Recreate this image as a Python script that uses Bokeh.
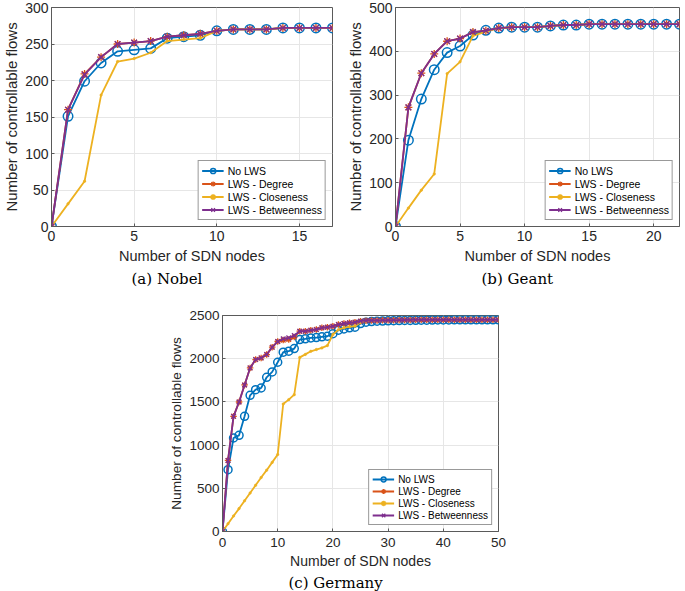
from bokeh.plotting import figure
from bokeh.models import Range1d, FixedTicker, Legend, LegendItem, Spacer
from bokeh.layouts import row, column
from bokeh.embed import file_html
from bokeh.resources import INLINE

# ---------------- data ----------------
series_names = ["No LWS", "LWS - Degree", "LWS - Closeness", "LWS - Betweenness"]
series_colors = ["#0072BD", "#D95319", "#EDB120", "#7E2F8E"]

nobel_x = list(range(0, 18))
nobel_nolws = [0, 151, 199, 224, 240, 242, 244, 258, 260, 262, 268, 270, 270, 270, 272, 272, 272, 272]
nobel_degree = [0, 160, 209, 232, 250, 252, 254, 260, 262, 264, 268, 270, 270, 270, 272, 272, 272, 272]
nobel_closeness = [0, 31, 62, 180, 226, 230, 238, 254, 256, 258, 268, 270, 270, 270, 272, 272, 272, 272]
nobel_betweenness = [0, 160, 208, 232, 250, 252, 254, 260, 262, 264, 268, 270, 270, 270, 272, 272, 272, 272]
nobel_xticks = [0, 5, 10, 15]
nobel_yticks = [0, 50, 100, 150, 200, 250, 300]

geant_x = list(range(0, 23))
geant_nolws = [0, 197, 291, 358, 397, 412, 437, 448, 453, 455, 455, 455, 458, 460, 460, 462, 462, 462, 462, 462, 462, 462, 462]
geant_degree = [0, 272, 350, 394, 423, 429, 444, 447, 453, 455, 455, 455, 458, 460, 460, 462, 462, 462, 462, 462, 462, 462, 462]
geant_closeness = [0, 42, 83, 120, 349, 376, 435, 445, 453, 455, 455, 455, 458, 460, 460, 462, 462, 462, 462, 462, 462, 462, 462]
geant_betweenness = [0, 272, 350, 394, 423, 429, 444, 447, 453, 455, 455, 455, 458, 460, 460, 462, 462, 462, 462, 462, 462, 462, 462]
geant_xticks = [0, 5, 10, 15, 20]
geant_yticks = [0, 100, 200, 300, 400, 500]

germany_x = list(range(0, 51))
germany_nolws = [0, 715, 1082, 1113, 1333, 1576, 1642, 1661, 1785, 1847,
                 1959, 2075, 2087, 2117, 2222, 2230, 2240, 2245, 2253, 2260,
                 2290, 2330, 2345, 2357, 2365, 2407, 2423, 2430, 2434, 2436,
                 2438, 2440, 2441, 2442, 2443, 2444, 2445, 2446, 2447, 2448,
                 2449, 2449, 2450, 2450, 2450, 2450, 2450, 2450, 2450, 2450, 2450]
germany_degree = [0, 823, 1333, 1499, 1696, 1893, 1990, 2009, 2048, 2133,
                  2199, 2215, 2222, 2250, 2318, 2318, 2330, 2337, 2357, 2365,
                  2376, 2395, 2407, 2415, 2423, 2434, 2440, 2442, 2443, 2444,
                  2445, 2446, 2447, 2448, 2449, 2450, 2450, 2450, 2450, 2450,
                  2450, 2450, 2450, 2450, 2450, 2450, 2450, 2450, 2450, 2450, 2450]
germany_closeness = [0, 90, 180, 265, 355, 445, 535, 625, 710, 800,
                     890, 1476, 1526, 1584, 2015, 2050, 2086, 2106, 2125, 2152,
                     2280, 2336, 2357, 2370, 2376, 2420, 2434, 2440, 2442, 2443,
                     2444, 2445, 2446, 2447, 2448, 2449, 2450, 2450, 2450, 2450,
                     2450, 2450, 2450, 2450, 2450, 2450, 2450, 2450, 2450, 2450, 2450]
germany_betweenness = [0, 823, 1333, 1499, 1696, 1893, 1990, 2009, 2048, 2133,
                       2199, 2230, 2241, 2268, 2318, 2318, 2330, 2337, 2357, 2365,
                       2376, 2395, 2407, 2415, 2423, 2434, 2440, 2442, 2443, 2444,
                       2445, 2446, 2447, 2448, 2449, 2450, 2450, 2450, 2450, 2450,
                       2450, 2450, 2450, 2450, 2450, 2450, 2450, 2450, 2450, 2450, 2450]
germany_xticks = [0, 10, 20, 30, 40, 50]
germany_yticks = [0, 500, 1000, 1500, 2000, 2500]

x_label = "Number of SDN nodes"
y_label = "Number of controllable flows"

AX = "#5a5a5a"
TXT = "#262626"
GRID = "#e6e6e6"
SANS = "Liberation Sans"


def make_panel(xs, ys_list, xr, yr, xt, yt, caption, fw, fh, mbl, mbr, mbt,
               cap_off, cap_standoff, msize, leg_font, leg_row,
               tick_fs, xl_fs, yl_fs, xtick_standoff, xl_standoff):
    p = figure(frame_width=fw, frame_height=fh,
               x_range=Range1d(*xr), y_range=Range1d(*yr),
               output_backend="svg", toolbar_location=None,
               title=caption, title_location="below",
               min_border_left=mbl, min_border_right=mbr,
               min_border_top=mbt, min_border_bottom=0,
               background_fill_color="white", border_fill_color="white")
    p.outline_line_color = AX
    p.outline_line_width = 1
    p.xaxis.ticker = FixedTicker(ticks=xt)
    p.yaxis.ticker = FixedTicker(ticks=yt)
    p.xaxis.axis_label = x_label
    p.yaxis.axis_label = y_label
    for ax in (p.xaxis[0], p.yaxis[0]):
        ax.axis_line_color = AX
        ax.major_tick_line_color = AX
        ax.major_tick_in = 3
        ax.major_tick_out = 0
        ax.minor_tick_line_color = None
        ax.major_label_text_font = SANS
        ax.major_label_text_font_size = tick_fs
        ax.major_label_text_color = TXT
        ax.axis_label_text_font = SANS
        ax.axis_label_text_font_style = "normal"
        ax.axis_label_text_color = TXT
    p.xaxis.major_label_standoff = xtick_standoff
    p.xaxis.axis_label_standoff = xl_standoff
    p.xaxis.axis_label_text_font_size = xl_fs
    p.yaxis.major_label_standoff = 3
    p.yaxis.axis_label_standoff = 2
    p.yaxis.axis_label_text_font_size = yl_fs
    p.xgrid.grid_line_color = GRID
    p.ygrid.grid_line_color = GRID

    p.title.text_font = "DejaVu Serif"
    p.title.text_font_style = "normal"
    p.title.text_font_size = "15px"
    p.title.text_color = "black"
    p.title.align = "left"
    p.title.offset = cap_off
    p.title.standoff = cap_standoff

    markers = ["circle", "asterisk", "dot", "x"]
    items = []
    for name, color, ys, mk in zip(series_names, series_colors, ys_list, markers):
        lr = p.line(xs, ys, line_color=color, line_width=1.8)
        if mk == "circle":
            sr = p.scatter(xs, ys, marker="circle", size=msize, fill_color=None,
                           line_color=color, line_width=1.5)
        elif mk == "dot":
            sr = p.scatter(xs, ys, marker="circle", size=2.5, fill_color=color,
                           line_color=color, line_width=0.5)
        else:
            sr = p.scatter(xs, ys, marker=mk, size=msize - 1.5, fill_color=None,
                           line_color=color, line_width=1.3)
        items.append(LegendItem(label=name, renderers=[lr, sr]))
    leg = Legend(items=items, location="bottom_right")
    leg.label_text_font = SANS
    leg.label_text_font_size = leg_font
    leg.label_text_color = "black"
    leg.label_height = leg_row
    leg.glyph_height = leg_row
    leg.glyph_width = 22
    leg.label_standoff = 4
    leg.spacing = 0
    leg.padding = 3
    leg.margin = 6
    leg.border_line_color = "#333333"
    leg.border_line_width = 1
    leg.background_fill_alpha = 1
    p.add_layout(leg)
    return p


p1 = make_panel(nobel_x, [nobel_nolws, nobel_degree, nobel_closeness, nobel_betweenness],
                (0, 17), (0, 300), nobel_xticks, nobel_yticks, "(a) Nobel",
                281, 219, 41, 12, 7, 80, 3, 9.5, "10.5px", 13,
                "14px", "14.5px", "15px", 4, 4)
p2 = make_panel(geant_x, [geant_nolws, geant_degree, geant_closeness, geant_betweenness],
                (0, 22), (0, 500), geant_xticks, geant_yticks, "(b) Geant",
                284, 219, 48, 4, 7, 86, 3, 9.5, "10.5px", 13,
                "14px", "14.5px", "15px", 4, 4)
p3 = make_panel(germany_x, [germany_nolws, germany_degree, germany_closeness, germany_betweenness],
                (0, 50), (0, 2500), germany_xticks, germany_yticks, "(c) Germany",
                276, 216, 50, 8, 26, 66, 0, 8, "10px", 12,
                "13.5px", "14px", "13.7px", 6, 3)

layout = column(row(p1, p2), row(Spacer(width=166, height=10), p3))

open("out.html", "w").write(file_html(layout, INLINE))
